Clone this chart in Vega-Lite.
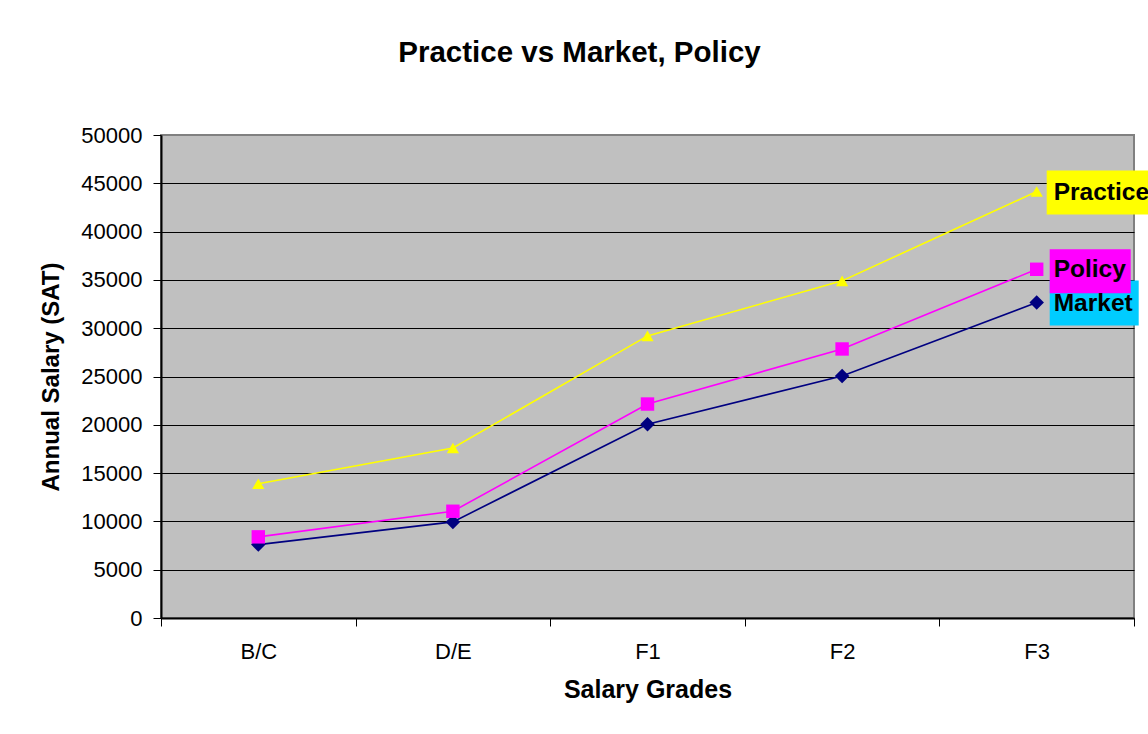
{
  "$schema": "https://vega.github.io/schema/vega-lite/v6.json",
  "width": 973,
  "height": 483,
  "autosize": {"type": "none"},
  "padding": {"left": 161, "top": 135, "right": 14, "bottom": 116},
  "background": "white",
  "config": {
    "font": "Liberation Sans",
    "view": {"fill": "#C0C0C0", "stroke": "#808080", "strokeWidth": 2}
  },
  "title": {
    "text": "Practice vs Market, Policy",
    "fontSize": 29.5,
    "fontWeight": "bold",
    "color": "black",
    "anchor": "middle",
    "frame": "group",
    "dx": -68,
    "offset": 33,
    "baseline": "alphabetic"
  },
  "data": {
    "values": [
      {"series": "Market", "grade": "B/C", "value": 7600},
      {"series": "Market", "grade": "D/E", "value": 9950},
      {"series": "Market", "grade": "F1", "value": 20050},
      {"series": "Market", "grade": "F2", "value": 25050},
      {"series": "Market", "grade": "F3", "value": 32650},
      {"series": "Policy", "grade": "B/C", "value": 8400},
      {"series": "Policy", "grade": "D/E", "value": 11050},
      {"series": "Policy", "grade": "F1", "value": 22150},
      {"series": "Policy", "grade": "F2", "value": 27850},
      {"series": "Policy", "grade": "F3", "value": 36100},
      {"series": "Practice", "grade": "B/C", "value": 13900},
      {"series": "Practice", "grade": "D/E", "value": 17600},
      {"series": "Practice", "grade": "F1", "value": 29200},
      {"series": "Practice", "grade": "F2", "value": 34900},
      {"series": "Practice", "grade": "F3", "value": 44150}
    ]
  },
  "encoding": {
    "x": {
      "field": "grade",
      "type": "ordinal",
      "sort": ["B/C", "D/E", "F1", "F2", "F3"],
      "scale": {"type": "band", "paddingInner": 0, "paddingOuter": 0},
      "axis": {
        "title": "Salary Grades",
        "titleFontSize": 25,
        "titleFontWeight": "bold",
        "titleColor": "black",
        "titlePadding": 15,
        "labelFontSize": 22,
        "labelColor": "black",
        "labelAngle": 0,
        "labelPadding": 15,
        "tickBand": "extent",
        "tickSize": 8,
        "tickColor": "black",
        "domainColor": "black",
        "domainWidth": 2,
        "grid": false
      }
    },
    "y": {
      "field": "value",
      "type": "quantitative",
      "scale": {"domain": [0, 50000], "nice": false},
      "axis": {
        "title": "Annual Salary (SAT)",
        "titleFontSize": 24,
        "titleFontWeight": "bold",
        "titleColor": "black",
        "titlePadding": 17,
        "values": [0, 5000, 10000, 15000, 20000, 25000, 30000, 35000, 40000, 45000, 50000],
        "format": "d",
        "labelFontSize": 22,
        "labelColor": "black",
        "labelPadding": 11,
        "tickSize": 8,
        "tickColor": "black",
        "domainColor": "black",
        "domainWidth": 2,
        "grid": true,
        "gridColor": {"condition": {"test": "datum.value == 50000", "value": "#808080"}, "value": "black"},
        "gridWidth": 1.2
      }
    }
  },
  "layer": [
    {
      "mark": {"type": "line", "strokeWidth": 1.6},
      "encoding": {
        "color": {
          "field": "series",
          "type": "nominal",
          "scale": {"domain": ["Market", "Policy", "Practice"], "range": ["#000080", "#FF00FF", "#FFFF00"]},
          "legend": null
        }
      }
    },
    {
      "mark": {"type": "point", "filled": true, "opacity": 1, "strokeWidth": 0},
      "encoding": {
        "color": {
          "field": "series",
          "type": "nominal",
          "scale": {"domain": ["Market", "Policy", "Practice"], "range": ["#000080", "#FF00FF", "#FFFF00"]},
          "legend": null
        },
        "shape": {
          "field": "series",
          "type": "nominal",
          "scale": {"domain": ["Market", "Policy", "Practice"], "range": ["diamond", "square", "triangle-up"]},
          "legend": null
        },
        "size": {
          "field": "series",
          "type": "nominal",
          "scale": {"domain": ["Market", "Policy", "Practice"], "range": [210, 150, 440]},
          "legend": null
        }
      }
    },
    {
      "transform": [{"filter": "datum.grade == 'F3'"}],
      "mark": {"type": "point", "filled": true, "opacity": 1, "strokeWidth": 0, "size": 4},
      "encoding": {
        "fill": {
          "field": "series",
          "type": "nominal",
          "scale": {"domain": ["Market", "Policy", "Practice"], "range": ["#00CCFF", "#FF00FF", "#FFFF00"]},
          "legend": null
        },
        "shape": {
          "field": "series",
          "type": "nominal",
          "scale": {
            "domain": ["Market", "Policy", "Practice"],
            "range": ["M13,-22L102,-22L102,23L13,23Z", "M13,-20L94,-20L94,24L13,24Z", "M10,-21L125,-21L125,23L10,23Z"]
          },
          "legend": null
        }
      }
    },
    {
      "transform": [{"filter": "datum.grade == 'F3'"}],
      "mark": {"type": "text", "align": "left", "baseline": "middle", "dx": 17, "dy": 1, "fontSize": 24.5, "fontWeight": "bold", "color": "black"},
      "encoding": {
        "text": {"field": "series", "type": "nominal"}
      }
    }
  ],
  "resolve": {"scale": {"shape": "independent", "size": "independent"}}
}
